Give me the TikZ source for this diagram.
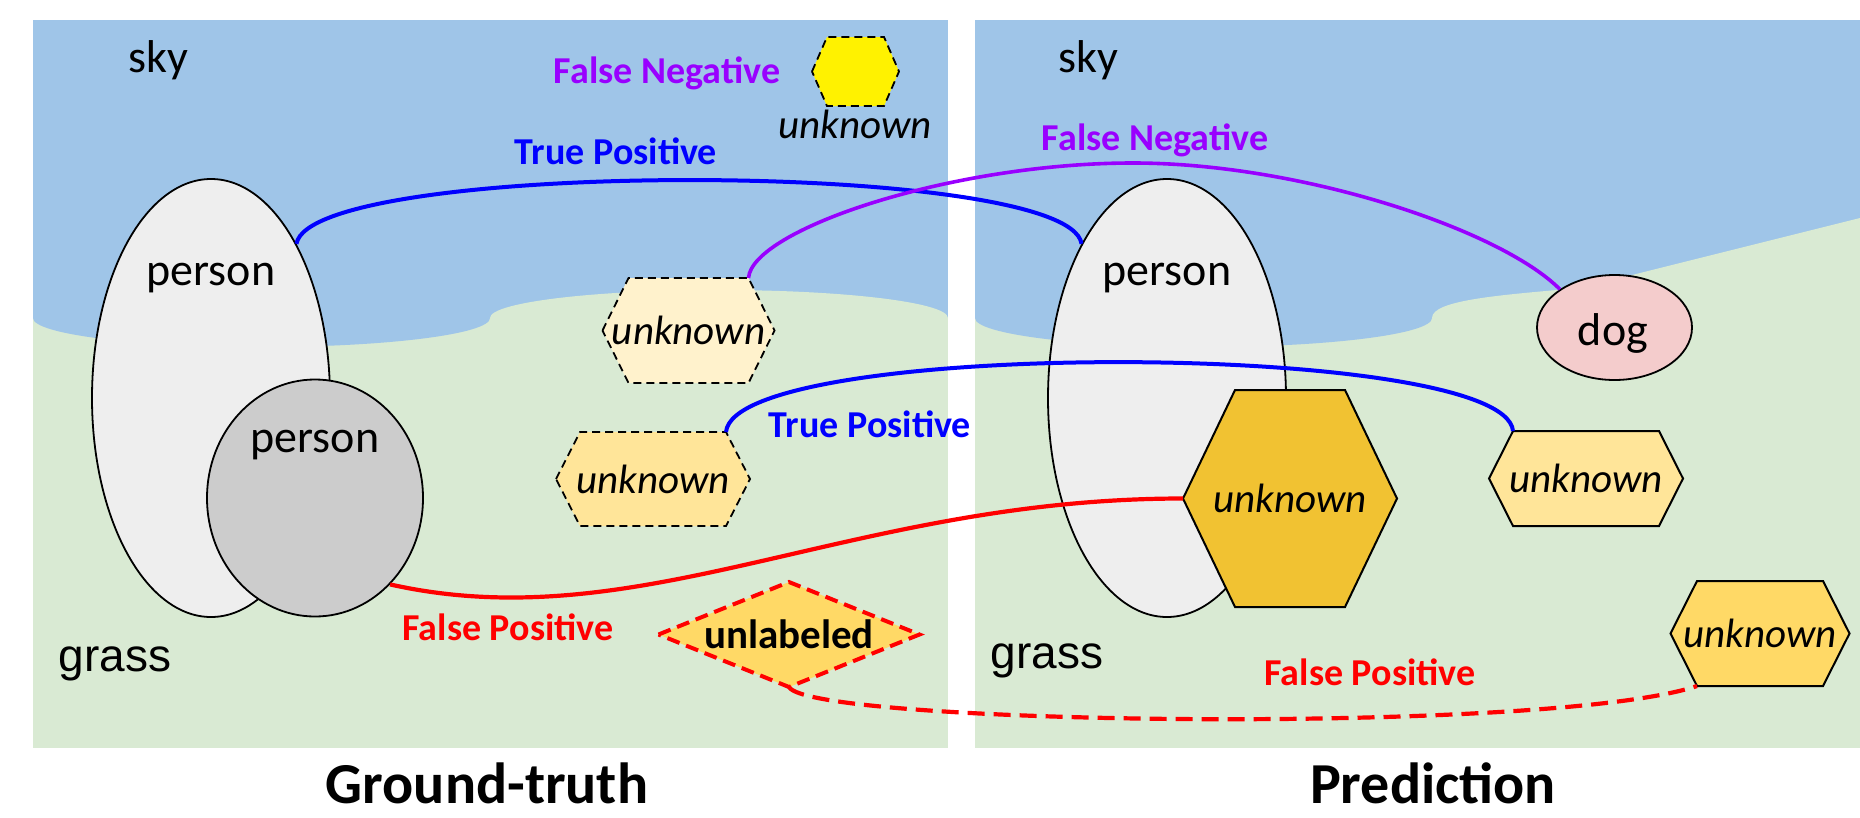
\documentclass[tikz,border=0pt]{standalone}
\usepackage{fontspec}
\setmainfont{Carlito}
\newfontfamily\arialfont{Liberation Sans}
\usepackage{tikz}
\usetikzlibrary{shapes.geometric}

\definecolor{sky}{HTML}{9FC5E8}
\definecolor{grass}{HTML}{D9EAD3}
\definecolor{perl}{HTML}{EEEEEE}
\definecolor{perd}{HTML}{CCCCCC}
\definecolor{dogc}{HTML}{F4CCCC}
\definecolor{hexa1}{HTML}{FFF2CC}
\definecolor{hexa2}{HTML}{FFE599}
\definecolor{hexa3}{HTML}{FFD966}
\definecolor{hexa4}{HTML}{F1C232}
\definecolor{tpc}{HTML}{0000FF}
\definecolor{fnc}{HTML}{9900FF}
\definecolor{fpc}{HTML}{FF0000}

\tikzset{
  ell/.style={ellipse, draw, line width=1.8, inner sep=0},
  hexd/.style={draw, line width=1.8, dash pattern=on 8 off 5},
  hexs/.style={draw, line width=2},
  diam/.style={draw=fpc, fill=hexa3, line width=4, dash pattern=on 13 off 7},
  lbl/.style={font=\fontsize{46}{50}\selectfont, anchor=base},
  grs/.style={font=\arialfont\fontsize{46}{50}\selectfont, anchor=base},
  unk/.style={font=\fontsize{41}{45}\selectfont\itshape, inner sep=0},
  tag/.style={font=\fontsize{38}{42}\selectfont\bfseries, anchor=base, inner sep=0},
  ttl/.style={font=\fontsize{58}{62}\selectfont\bfseries, anchor=base},
  tp/.style={draw=tpc, line width=4},
  fn/.style={draw=fnc, line width=3.6},
  fp/.style={draw=fpc, line width=4.2},
  fpdash/.style={dash pattern=on 17 off 9},
}

% hexagon: style, name, x, y, half width, half top edge, half height, text
\newcommand{\hexa}[8]{%
  \draw[#1] (#3-#5,#4) -- (#3-#6,#4-#7) -- (#3+#6,#4-#7) -- (#3+#5,#4)
     -- (#3+#6,#4+#7) -- (#3-#6,#4+#7) -- cycle;
  \coordinate (#2-w) at (#3-#5,#4);
  \coordinate (#2-e) at (#3+#5,#4);
  \coordinate (#2-nw) at (#3-#6,#4-#7);
  \coordinate (#2-ne) at (#3+#6,#4-#7);
  \coordinate (#2-sw) at (#3-#6,#4+#7);
  \coordinate (#2-se) at (#3+#6,#4+#7);
  \node[unk] (#2) at (#3,#4) {#8};}

\begin{document}
\begin{tikzpicture}[x=1pt, y=-1pt]
\useasboundingbox (0,0) rectangle (1860,817);
%
% ground-truth scene
\fill[grass] (33,20) rectangle (948,748);
\fill[sky] (33,20) rectangle (948,318);
\fill[sky] (261.5,318) ellipse [x radius=228.5, y radius=29];
\fill[grass] (719,318) ellipse [x radius=229, y radius=28];
% prediction scene
\fill[grass] (975,20) rectangle (1860,748);
\fill[sky] (975,20) rectangle (1860,318);
\fill[sky] (1203.5,318) ellipse [x radius=228.5, y radius=29];
\fill[grass] (1432,318) .. controls (1432,300) and (1500,295) .. (1580,288)
   -- (1860,218) -- (1860,318) -- cycle;
%
\node[lbl] (sky1) at (158,72) {sky};
\node[lbl] (sky2) at (1088,72) {sky};
\node[grs] (gr1) at (115,671) {grass};
\node[grs] (gr2) at (1047,668) {grass};
%
\node[ell, fill=perl, minimum width=238, minimum height=438] (p1) at (211,398) {};
\node[ell, fill=perd, minimum width=216, minimum height=237] (p2) at (315,498) {};
\node[ell, fill=perl, minimum width=238, minimum height=438] (p3) at (1167,398) {};
\node[ell, fill=dogc, minimum width=155, minimum height=105] (dog) at (1614.5,327.5) {};
\node[lbl] (t1) at (211,285) {person};
\node[lbl] (t2) at (315,452) {person};
\node[lbl] (t3) at (1167,285) {person};
\node[lbl] (t4) at (1613,345) {dog};
%
\hexa{hexd, fill=yellow}{h0}{855.5}{71.5}{43.5}{28.5}{34.5}{}
\hexa{hexd, fill=hexa1}{h1}{688.5}{330.5}{86}{60}{52.5}{unknown}
\hexa{hexd, fill=hexa2}{h2}{653}{479}{97}{73}{47}{unknown}
\hexa{diam}{d1}{789}{634.5}{130.5}{0}{52.5}{\textbf{\textup{unlabeled}}}
\hexa{hexs, fill=hexa4}{bh}{1290}{498.5}{107}{55}{108.5}{unknown}
\hexa{hexs, fill=hexa2}{h3}{1586}{478.5}{97}{73}{47.5}{unknown}
\hexa{hexs, fill=hexa3}{h4}{1760}{633.5}{89.5}{63}{52.5}{unknown}
\node[unk, anchor=base] (u0) at (855,138) {unknown};
%
\draw[tp] (p1.61) .. controls +(14,-85) and +(-12,-85) .. (p3.119);
\draw[fn] (h1-ne) .. controls +(3.5,-48) and +(-183,0) .. (1133,163)
   .. controls +(167,0) and +(-60,-60) .. (dog.145);
\draw[tp] (h2-ne) .. controls +(9,-94) and +(-8,-91) .. (h3-nw);
\draw[fp] (p2.-49) .. controls +(250,56) and +(-333,0) .. (bh-w);
\draw[fp, fpdash] (d1-sw) .. controls +(21,38) and +(-147,49) .. (h4-sw);
%
\node[tag, text=tpc] (tp1) at (616,164) {True Positive};
\node[tag, text=fnc] (fn1) at (667,83) {False Negative};
\node[tag, text=fnc] (fn2) at (1155,150) {False Negative};
\node[tag, text=tpc] (tp2) at (870,437) {True Positive};
\node[tag, text=fpc] (fp1) at (508,640) {False Positive};
\node[tag, text=fpc] (fp2) at (1370,685) {False Positive};
%
\node[ttl] (gt) at (487,803) {Ground-truth};
\node[ttl] (pr) at (1433,803) {Prediction};
\end{tikzpicture}
\end{document}
